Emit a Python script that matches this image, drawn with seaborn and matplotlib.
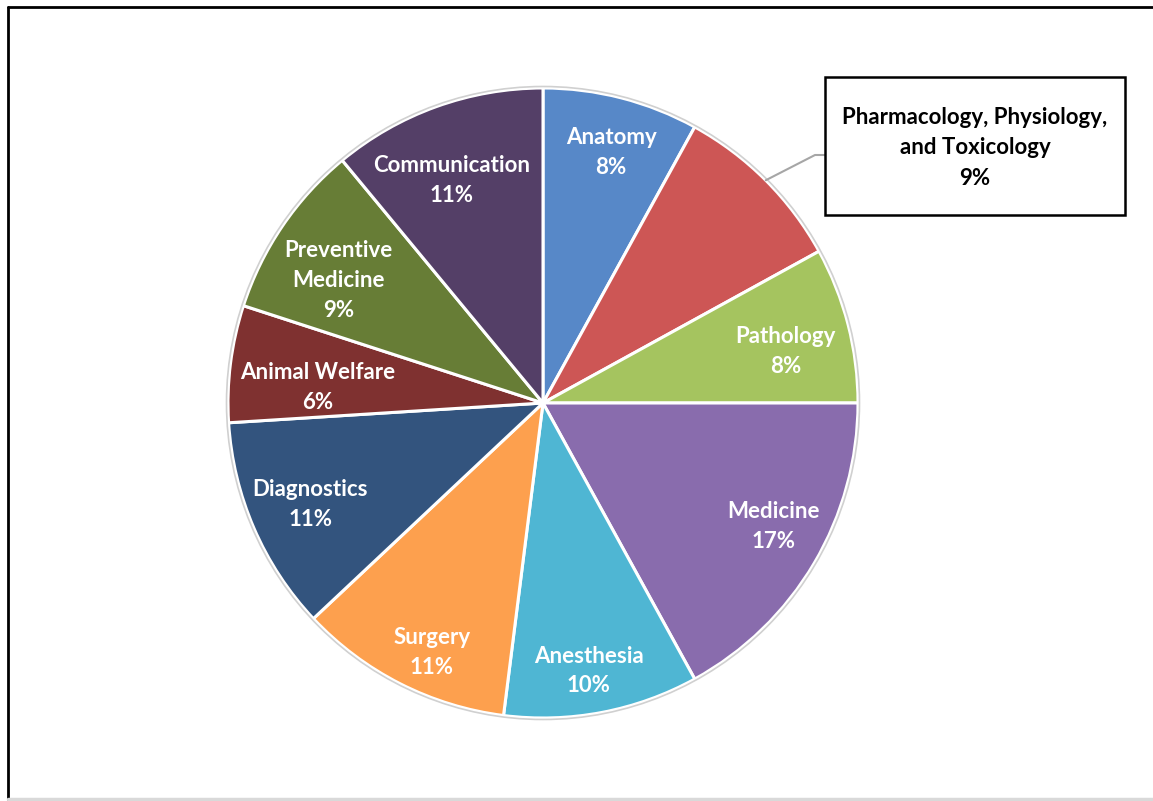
import numpy as np
import matplotlib
matplotlib.use("Agg")
import matplotlib.pyplot as plt
from matplotlib.patches import Rectangle, Circle
from matplotlib.lines import Line2D
import seaborn as sns

# Share of the curriculum by subject area (percent)
subjects = ["Anatomy", "Pharmacology, Physiology,\nand Toxicology", "Pathology",
            "Medicine", "Anesthesia", "Surgery", "Diagnostics",
            "Animal Welfare", "Preventive\nMedicine", "Communication"]
shares = [8, 9, 8, 17, 10, 11, 11, 6, 9, 11]
colors = ["#5788C8", "#CD5655", "#A5C45F", "#896CAD", "#4FB6D3",
          "#FDA04E", "#33547E", "#7F3130", "#677D36", "#543F67"]

# In-slice label placement: radius fraction and clockwise nudge (deg) from the slice middle
label_r = [0.825, None, 0.787, 0.832, 0.863, 0.867, 0.806, 0.717, 0.756, 0.765]
label_nudge = [0.8, 0, 2.5, -2.4, 1.1, -3.0, -0.2, -3.2, -3.2, -2.6]

sns.set_theme(style="white")
plt.rcParams["font.family"] = ["Lato", "DejaVu Sans"]

W, H = 1153, 801
fig = plt.figure(figsize=(W / 100, H / 100), dpi=100)
ax = fig.add_axes([0, 0, 1, 1])

cx, cy, R = 543, H - 403, 315
wedges, _ = ax.pie(shares, colors=colors, startangle=90, counterclock=False,
                   center=(cx, cy), radius=R,
                   wedgeprops=dict(edgecolor="white", linewidth=2.2))
ax.add_patch(Circle((cx, cy), R + 1.5, fill=False, edgecolor="#d0d0d0", linewidth=1.2))

ax.set_xlim(0, W)
ax.set_ylim(0, H)
ax.set_aspect("equal")
ax.axis("off")

for w, name, val, rf, nd in zip(wedges, subjects, shares, label_r, label_nudge):
    mid = np.deg2rad((w.theta1 + w.theta2) / 2 - nd)
    if rf is None:
        # callout for the slice whose name is too long to fit inside
        ex, ey = cx + R * np.cos(mid), cy + R * np.sin(mid)
        bx0, by0, bx1, by1 = 825, H - 215, 1125, H - 77
        ax.add_line(Line2D([ex, 815, bx0], [ey, H - 155, H - 155],
                           color="#a6a6a6", linewidth=1.5))
        ax.add_patch(Rectangle((bx0, by0), bx1 - bx0, by1 - by0, facecolor="white",
                               edgecolor="black", linewidth=1.8, zorder=3))
        ax.text((bx0 + bx1) / 2, H - 148, f"{name}\n{val}%",
                ha="center", va="center", fontsize=16, fontweight="bold",
                color="black", linespacing=1.56, zorder=4)
        continue
    tx, ty = cx + rf * R * np.cos(mid), cy + rf * R * np.sin(mid)
    ax.text(tx, ty, f"{name}\n{val}%", ha="center", va="center",
            fontsize=16, fontweight="bold", color="white", linespacing=1.52)

# Chart frame
ax.add_line(Line2D([8, W], [H - 7, H - 7], color="black", linewidth=2))
ax.add_line(Line2D([8, 8], [H - 7, H - 799], color="black", linewidth=2))
ax.add_line(Line2D([8, W], [H - 799, H - 799], color="#d9d9d9", linewidth=2.5))

fig.savefig("out.png", dpi=100)
